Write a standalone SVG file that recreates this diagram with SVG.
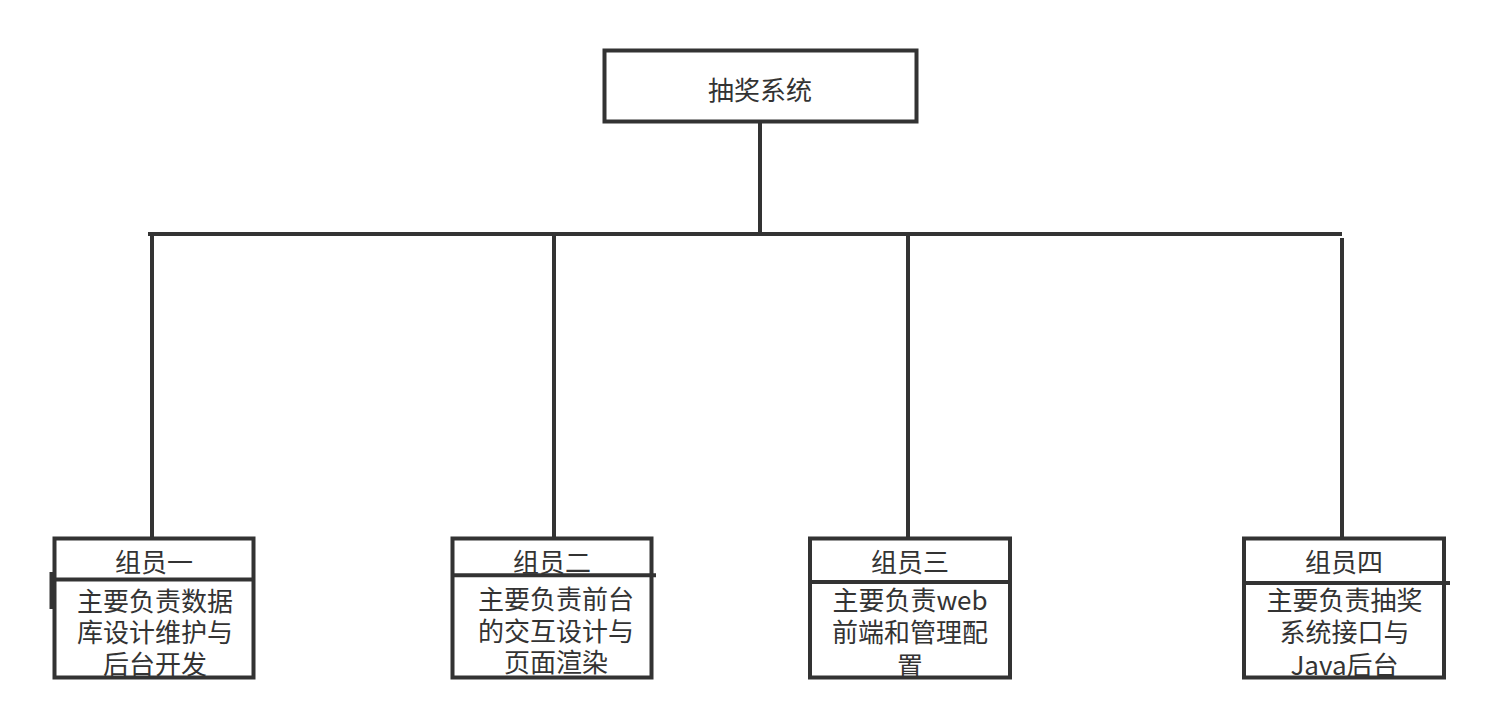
<svg xmlns="http://www.w3.org/2000/svg" width="1499" height="728" viewBox="0 0 1499 728">
<style>
.box{fill:#fff;stroke:#333;stroke-width:4}
.ln{stroke:#333;stroke-width:4;fill:none}
.t{font-family:"Noto Sans CJK SC","Noto Sans",sans-serif;font-size:26px;fill:#333;text-anchor:middle}
</style>
<defs>
<clipPath id="c1"><rect x="54" y="538" width="200" height="139"/></clipPath>
<clipPath id="c2"><rect x="452" y="538" width="200" height="139"/></clipPath>
<clipPath id="c3"><rect x="810" y="538" width="200" height="139"/></clipPath>
<clipPath id="c4"><rect x="1244" y="538" width="200" height="139"/></clipPath>
</defs>
<rect width="1499" height="728" fill="#fff"/>
<g id="connectors">
<line class="ln" x1="760" y1="122" x2="760" y2="234"/>
<line class="ln" x1="148" y1="234" x2="1342" y2="234"/>
<line class="ln" x1="152" y1="236" x2="152" y2="538"/>
<line class="ln" x1="554" y1="236" x2="554" y2="538"/>
<line class="ln" x1="908" y1="236" x2="908" y2="538"/>
<line class="ln" x1="1342" y1="238" x2="1342" y2="538"/>
</g>
<g id="root">
<rect class="box" x="604.5" y="50.5" width="312" height="71"/>
<text class="t" x="760" y="99.5">抽奖系统</text>
</g>
<g id="member1">
<rect class="box" x="54.5" y="538.5" width="199" height="139"/>
<line class="ln" x1="54" y1="579.5" x2="254" y2="579.5"/>
<line class="ln" x1="51.5" y1="572" x2="51.5" y2="609" stroke-width="3.5"/>
<text class="t" x="154" y="572">组员一</text>
<g clip-path="url(#c1)">
<text class="t" x="155" y="611">主要负责数据</text>
<text class="t" x="155" y="642">库设计维护与</text>
<text class="t" x="155" y="673.5">后台开发</text>
</g>
</g>
<g id="member2">
<rect class="box" x="452.5" y="538.5" width="199" height="139"/>
<line class="ln" x1="452" y1="575.3" x2="656" y2="575.3"/>
<text class="t" x="552" y="571.5">组员二</text>
<g clip-path="url(#c2)">
<text class="t" x="556" y="609">主要负责前台</text>
<text class="t" x="556" y="641">的交互设计与</text>
<text class="t" x="556" y="672">页面渲染</text>
</g>
</g>
<g id="member3">
<rect class="box" x="810" y="538.5" width="200" height="139"/>
<line class="ln" x1="810" y1="582" x2="1010" y2="582"/>
<text class="t" x="910" y="572">组员三</text>
<g clip-path="url(#c3)">
<text class="t" x="910" y="610">主要负责web</text>
<text class="t" x="910" y="642">前端和管理配</text>
<text class="t" x="910" y="676">置</text>
</g>
</g>
<g id="member4">
<rect class="box" x="1244" y="538.5" width="200" height="139"/>
<line class="ln" x1="1244" y1="583" x2="1450" y2="583"/>
<text class="t" x="1344" y="572">组员四</text>
<g clip-path="url(#c4)">
<text class="t" x="1344.5" y="610">主要负责抽奖</text>
<text class="t" x="1344.5" y="641.5">系统接口与</text>
<text class="t" x="1344.5" y="675">Java后台</text>
</g>
</g>
</svg>
